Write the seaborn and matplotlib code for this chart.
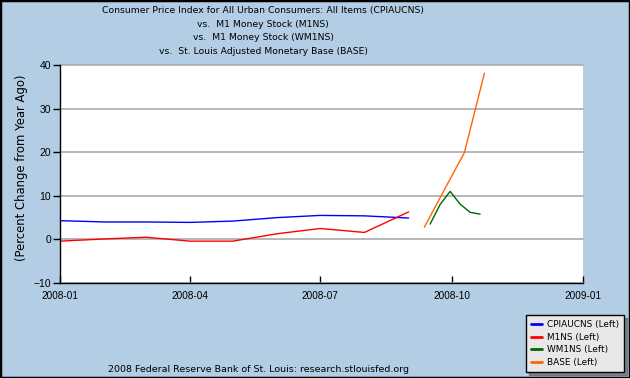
import numpy as np
import pandas as pd
import matplotlib
matplotlib.use("Agg")
from matplotlib import pyplot as plt
import matplotlib.dates as mdates
from matplotlib.patches import Rectangle
import seaborn as sns

# monthly series, percent change from year ago
cpi_dates = pd.to_datetime(["2008-01-01", "2008-02-01", "2008-03-01", "2008-04-01", "2008-05-01",
                            "2008-06-01", "2008-07-01", "2008-08-01", "2008-09-01"])
cpi_vals = [4.3, 4.0, 4.0, 3.9, 4.2, 5.0, 5.5, 5.4, 4.9]

m1_dates = cpi_dates
m1_vals = [-0.4, 0.1, 0.5, -0.4, -0.4, 1.3, 2.5, 1.6, 6.3]

# weekly M1
wm1_dates = pd.to_datetime(["2008-09-16", "2008-09-23", "2008-09-30", "2008-10-07", "2008-10-14", "2008-10-21"])
wm1_vals = [3.5, 8.0, 11.0, 8.1, 6.2, 5.8]

# biweekly monetary base
base_dates = pd.to_datetime(["2008-09-12", "2008-09-26", "2008-10-10", "2008-10-24"])
base_vals = [2.8, 11.4, 19.9, 38.1]

series = [("CPIAUCNS (Left)", cpi_dates, cpi_vals, "#0000ff"),
          ("M1NS (Left)", m1_dates, m1_vals, "#ff0000"),
          ("WM1NS (Left)", wm1_dates, wm1_vals, "#006600"),
          ("BASE (Left)", base_dates, base_vals, "#ff6600")]

title_lines = ["Consumer Price Index for All Urban Consumers: All Items (CPIAUCNS)",
               "vs.  M1 Money Stock (M1NS)",
               "vs.  M1 Money Stock (WM1NS)",
               "vs.  St. Louis Adjusted Monetary Base (BASE)"]

sns.set_style("white")
plt.rcParams['font.family'] = ['DejaVu Sans']
plt.rcParams['text.color'] = 'black'
plt.rcParams['axes.labelcolor'] = 'black'

bg = "#b3cde4"
fig = plt.figure(figsize=(6.3, 3.78), dpi=100, facecolor=bg)
ax = fig.add_axes([60/630, 95/378, 523/630, 218/378])
ax.set_facecolor("white")

for name, d, v, c in series:
    df = pd.DataFrame({"date": d, "value": v})
    sns.lineplot(data=df, x="date", y="value", ax=ax, color=c, linewidth=1.0, label=name)

ax.set_ylim(-10, 40)
ax.set_yticks([-10, 0, 10, 20, 30, 40])
ax.set_xlim(pd.Timestamp("2008-01-01"), pd.Timestamp("2009-01-01"))
ax.xaxis.set_major_locator(mdates.MonthLocator(bymonth=[1, 4, 7, 10]))
ax.xaxis.set_major_formatter(mdates.DateFormatter("%Y-%m"))
ax.yaxis.grid(True, color="#aaaaaa", linewidth=1.2)
ax.set_axisbelow(True)
for gl in ax.yaxis.get_gridlines():
    gl.set_clip_on(False)

for s in ["top", "right"]:
    ax.spines[s].set_visible(False)
for s in ["left", "bottom"]:
    ax.spines[s].set_color("black")
    ax.spines[s].set_linewidth(1.0)

ax.tick_params(axis="x", direction="in", length=5, width=1, colors="black", labelsize=7.2, pad=6)
ax.tick_params(axis="y", direction="out", length=5, width=1, colors="black", labelsize=7.5, pad=1.5)
ax.tick_params(bottom=True, left=True)
for lbl in ax.get_xticklabels() + ax.get_yticklabels():
    lbl.set_family("Liberation Sans")

ax.set_xlabel("")
ax.set_ylabel("(Percent Change from Year Ago)", fontsize=8.4, color="black")
ax.yaxis.set_label_coords(-0.061, 0.528)

for i, line in enumerate(title_lines):
    fig.text(263/630, 1 - (10.5 + 13.7 * i)/378, line, ha="center", va="center", fontsize=6.7)

fig.text(259/630, 1 - 369/378, "2008 Federal Reserve Bank of St. Louis: research.stlouisfed.org",
         ha="center", va="center", fontsize=6.8)

ax.get_legend().remove()
leg = fig.legend(*ax.get_legend_handles_labels(), loc="lower right",
                 bbox_to_anchor=(624/630, 6/378), borderaxespad=0, fontsize=6.4, frameon=True,
                 fancybox=False, shadow=True, facecolor="#e8e8e8", edgecolor="black",
                 handlelength=1.2, labelspacing=0.42, borderpad=0.55, handletextpad=0.6)
leg.get_frame().set_linewidth(1.0)
for line in leg.get_lines():
    line.set_linewidth(2.0)

fig.patches.append(Rectangle((0, 0), 1, 1, transform=fig.transFigure, fill=False,
                             edgecolor="black", linewidth=2.5))

fig.savefig("out.png", dpi=100, facecolor=bg)
